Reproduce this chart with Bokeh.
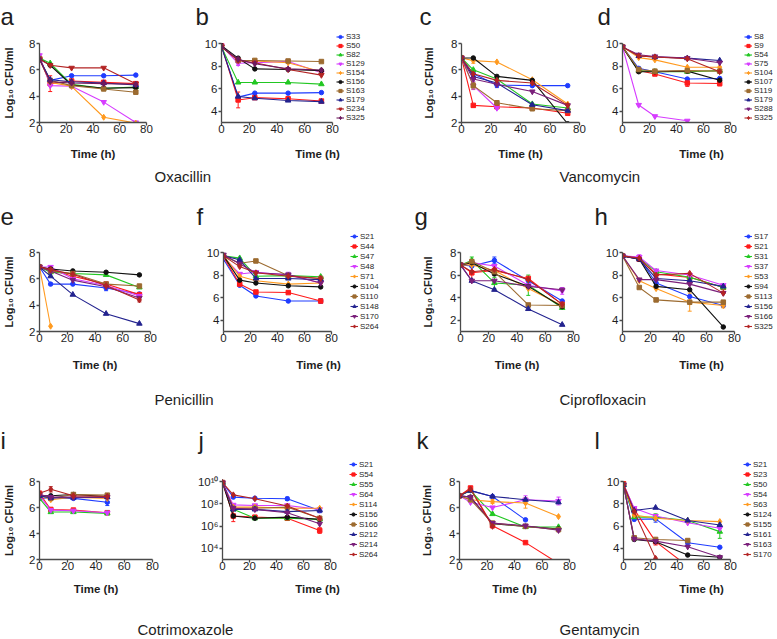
import math
from bokeh.plotting import figure
from bokeh.models import (Range1d, FixedTicker, Label, Legend, LegendItem, ColumnDataSource,
                          Whisker, TeeHead, CustomJSTickFormatter)
from bokeh.layouts import column, row
from bokeh.embed import file_html
from bokeh.resources import INLINE

FONT = "Liberation Sans"
AX = "#4a4a4a"
TXT = "#1e1e1e"

# ---------------- data ----------------
T8 = [0, 8, 24, 48, 72]
T12 = [0, 12, 24, 48, 72]

# a / b : Oxacillin
A_STRAINS = ["S33", "S50", "S82", "S129", "S154", "S156", "S163", "S179", "S234", "S325"]
A_VALUES = [
    [6.85, 5.2, 5.55, 5.55, 5.6],
    [6.85, 4.95, 5.15, 5.05, 4.95],
    [6.9, 6.5, 4.9, 4.6, 4.7],
    [7.1, 4.8, 4.75, 3.55, 2.0],
    [6.8, 5.05, 4.75, 2.4, 1.95],
    [6.85, 6.35, 4.85, 4.6, 4.65],
    [6.85, 5.2, 4.8, 4.55, 4.3],
    [6.8, 5.25, 5.1, 5.0, 4.85],
    [6.8, 6.35, 6.15, 6.15, 4.95],
    [6.8, 5.1, 5.0, 4.95, 4.9],
]
A_ERR = {"S50": [0, 0.6, 0, 0, 0], "S156": [0, 0, 0, 0.15, 0]}
B_VALUES = [
    [9.8, 5.25, 5.6, 5.6, 5.65],
    [9.8, 5.0, 5.2, 5.1, 4.9],
    [9.7, 6.55, 6.55, 6.55, 6.4],
    [9.8, 8.25, 8.3, 8.4, 7.4],
    [9.7, 8.5, 8.45, 8.3, 7.5],
    [9.8, 8.7, 7.75, 7.7, 7.6],
    [9.7, 8.5, 8.5, 8.45, 8.4],
    [9.7, 5.3, 5.15, 4.95, 4.85],
    [9.7, 8.5, 8.3, 7.7, 7.2],
    [9.7, 8.6, 8.2, 7.75, 7.65],
]
B_ERR = {"S50": [0, 0.7, 0, 0, 0], "S129": [0, 0.2, 0, 0, 0]}

# c / d : Vancomycin
C_STRAINS = ["S8", "S9", "S54", "S75", "S104", "S107", "S119", "S179", "S288", "S325"]
C_VALUES = [
    [6.9, 5.7, 4.85, 4.8, 4.8],
    [6.9, 3.3, 3.2, 3.1, 2.7],
    [6.9, 6.0, 5.3, 3.4, 3.1],
    [6.9, 4.8, 3.1, None, None],
    [6.9, 6.7, 6.6, 5.25, 3.4],
    [6.9, 6.9, 5.5, 5.2, 1.9],
    [6.9, 4.8, 3.5, 3.05, 2.9],
    [6.9, 5.5, 5.0, 3.35, 2.9],
    [6.9, 5.3, 4.9, 4.35, 3.3],
    [6.9, 5.7, 5.2, 5.0, 3.3],
]
C_ERR = {"S104": [0, 0.2, 0, 0, 0], "S75": [0, 0.3, 0, 0, 0],
         "S119": [0, 0.25, 0, 0.15, 0], "S8": [0, 0, 0.2, 0, 0]}
D_VALUES = [
    [9.7, 7.8, 7.5, 6.85, 6.9],
    [9.7, 7.6, 7.3, 6.5, 6.45],
    [9.7, 7.6, 7.5, 7.5, 7.6],
    [9.7, 4.55, 3.55, 3.15, None],
    [9.7, 8.75, 8.55, 7.9, 7.9],
    [9.7, 7.5, 7.5, 7.55, 6.75],
    [9.7, 7.7, 7.55, 7.6, 7.55],
    [9.7, 8.9, 8.8, 8.7, 8.5],
    [9.7, 9.0, 8.85, 8.7, 8.3],
    [9.7, 8.9, 8.8, 8.65, 7.5],
]
D_ERR = {"S9": [0, 0, 0, 0.3, 0.2]}

# e / f : Penicillin
E_STRAINS = ["S21", "S44", "S47", "S48", "S71", "S104", "S110", "S148", "S170", "S264"]
E_VALUES = [
    [6.9, 5.6, 5.6, 5.3, 4.85],
    [6.9, 6.7, 6.2, 5.6, 4.8],
    [6.9, 6.5, 6.4, 6.3, 5.35],
    [6.9, 6.9, 6.0, 5.5, 4.7],
    [6.9, 2.4, None, None, None],
    [6.9, 6.75, 6.6, 6.5, 6.3],
    [6.9, 6.6, 6.4, 5.6, 5.45],
    [6.9, 6.2, 4.8, 3.35, 2.6],
    [6.9, 6.6, 5.9, 5.4, 4.55],
    [6.9, 6.7, 6.35, 5.5, 4.4],
]
E_ERR = {"S48": [0, 0.1, 0, 0, 0], "S21": [0, 0, 0, 0.2, 0], "S264": [0, 0, 0, 0, 0.15]}
F_VALUES = [
    [9.4, 7.1, 6.15, 5.7, 5.7],
    [9.6, 7.2, 6.5, 6.45, 5.7],
    [9.7, 9.5, 7.9, 7.95, 7.85],
    [9.6, 8.1, 8.25, 8.0, 7.3],
    [9.7, 7.9, 7.5, 7.2, 7.3],
    [9.7, 7.55, 7.3, 7.05, 6.95],
    [9.7, 9.05, 9.25, 7.95, 7.7],
    [9.7, 9.35, 7.7, 7.7, 7.6],
    [9.8, 9.0, 8.2, 8.05, 7.3],
    [9.7, 8.75, 8.2, 7.9, 7.7],
]
F_ERR = {"S48": [0, 0, 0, 0.25, 0], "S21": [0, 0, 0, 0, 0.2]}

# g / h : Ciprofloxacin
G_STRAINS = ["S17", "S21", "S31", "S37", "S53", "S94", "S113", "S156", "S166", "S325"]
G_VALUES = [
    [6.9, 6.8, 7.3, 5.5, 3.7],
    [6.9, 6.2, 6.4, 5.7, 3.4],
    [6.9, 7.3, 5.3, 5.1, 3.1],
    [6.9, 7.1, 6.8, 5.1, 4.6],
    [6.9, 6.9, 6.4, 4.8, 3.3],
    [6.9, 7.1, 6.1, 5.0, 3.2],
    [6.9, 7.2, 6.3, 3.35, 3.3],
    [6.9, 5.5, 4.7, 3.0, 1.6],
    [6.9, 5.5, 5.5, 5.0, 4.7],
    [6.9, 6.3, 6.5, 5.6, 3.4],
]
G_ERR = {"S21": [0, 0.8, 0, 0, 0], "S31": [0, 0.3, 0.5, 0.9, 0],
         "S17": [0, 0, 0.3, 0, 0], "S37": [0, 0, 0, 0, 0.3]}
H_VALUES = [
    [9.7, 9.5, 7.3, 6.1, 5.3],
    [9.7, 9.4, 8.1, 7.8, 6.9],
    [9.7, 9.5, 8.3, 7.8, 6.9],
    [9.7, 9.6, 8.4, 8.0, 7.1],
    [9.7, 7.5, 6.8, 5.6, 5.3],
    [9.7, 9.4, 7.0, 6.7, 3.4],
    [9.7, 6.9, 5.8, 5.6, 5.6],
    [9.7, 9.4, 7.7, 7.5, 7.0],
    [9.7, 7.6, 7.6, 7.2, 6.4],
    [9.7, 9.5, 8.0, 8.15, 6.4],
]
H_ERR = {"S53": [0, 0, 0, 0.8, 0.2], "S37": [0, 0.2, 0, 0, 0]}

# i / j : Cotrimoxazole
I_STRAINS = ["S21", "S54", "S55", "S64", "S114", "S156", "S166", "S212", "S214", "S264"]
I_VALUES = [
    [6.7, 6.75, 6.7, 6.4, None],
    [7.1, 5.85, 5.8, 5.6, None],
    [6.7, 5.65, 5.65, 5.55, None],
    [6.9, 5.8, 5.75, 5.6, None],
    [7.0, 6.6, 6.8, 6.7, None],
    [6.9, 6.9, 7.0, 6.85, None],
    [6.9, 6.7, 7.0, 6.95, None],
    [6.9, 6.75, 6.75, 6.8, None],
    [7.0, 6.8, 6.8, 6.8, None],
    [7.1, 7.4, 6.9, 6.85, None],
]
I_ERR = {"S264": [0, 0.2, 0, 0, 0], "S21": [0, 0, 0, 0.25, 0]}
# j values are log10(CFU/ml), drawn on a log axis
J_LOG10 = [
    [9.9, 8.6, 8.5, 8.45, 7.4],
    [9.9, 6.9, 6.8, 6.7, 5.6],
    [9.9, 7.5, 6.7, 6.7, 6.6],
    [9.9, 7.9, 7.85, 7.85, 7.5],
    [9.9, 7.7, 7.7, 7.6, 7.6],
    [9.9, 6.9, 6.7, 6.8, 6.6],
    [9.9, 7.6, 7.6, 7.7, 6.7],
    [9.9, 7.5, 7.5, 7.3, 7.4],
    [9.9, 7.6, 7.5, 7.2, 6.2],
    [9.9, 8.8, 8.45, 7.8, 6.7],
]
J_ERR = {"S54": [0, 0.5, 0, 0, 0.25], "S21": [0, 0, 0, 0.15, 0.2]}

# k / l : Gentamycin
K_STRAINS = ["S21", "S23", "S50", "S54", "S63", "S124", "S155", "S161", "S163", "S170"]
K_VALUES = [
    [6.9, 7.3, 6.85, 5.05, None],
    [6.9, 7.5, 4.6, 3.3, 1.7],
    [6.9, 7.3, 5.5, 4.5, 4.5],
    [6.9, 6.4, 6.0, 6.6, 6.5],
    [6.9, 6.6, 6.45, 6.35, 5.3],
    [6.9, 6.8, 4.75, 4.55, 4.35],
    [6.9, 6.6, 4.8, 4.55, 4.3],
    [6.9, 7.3, 6.85, 6.6, 6.4],
    [6.9, 6.8, 4.8, 4.6, 4.25],
    [6.9, 7.4, 4.55, None, None],
]
K_ERR = {"S54": [0, 0, 0, 0.3, 0.3], "S63": [0, 0, 0.15, 0.4, 0]}
L_VALUES = [
    [9.7, 6.6, 6.65, 4.5, 4.1],
    [9.8, 7.5, 4.6, 2.4, None],
    [9.7, 6.8, 6.8, 6.5, 5.5],
    [9.7, 7.6, 6.9, 6.3, 5.8],
    [9.7, 7.0, 6.7, 6.5, 6.4],
    [9.7, 4.8, 4.6, 3.4, 3.2],
    [9.7, 4.95, 4.8, 4.7, None],
    [9.7, 7.4, 7.65, 6.5, 6.1],
    [9.7, 4.85, 4.65, 4.15, 3.2],
    [9.7, 7.3, 3.1, None, None],
]
L_ERR = {"S50": [0, 0, 0.3, 0, 0.6], "S21": [0, 0, 0.3, 0, 0], "S23": [0, 0, 0.3, 0, 0]}

DRUGS = ["Oxacillin", "Vancomycin", "Penicillin", "Ciprofloxacin", "Cotrimoxazole", "Gentamycin"]
LETTERS = ["a", "b", "c", "d", "e", "f", "g", "h", "i", "j", "k", "l"]
Y_TITLE = "Log\u2081\u2080 CFU/ml"
X_TITLE = "Time (h)"

PAL = ["#1f3cff", "#ff1a1a", "#22c722", "#d63cff", "#ff9a1f",
       "#111111", "#9c6b30", "#23238f", "#7a1f7a", "#b32424"]
PAL_AB = PAL[:8] + ["#b32424", "#6e1a5e"]
MARKERS = ["circle", "square", "triangle", "inverted_triangle", "diamond",
           "circle", "square", "triangle", "inverted_triangle", "diamond"]
MSIZE = {"circle": 4.5, "square": 4.5, "triangle": 5.5, "inverted_triangle": 5.5, "diamond": 6}

# ---------------- layout geometry (page pixels) ----------------
W = 777
COLS = [(0, 190), (190, 410), (410, 590), (590, W)]
# block top, block bottom, frame top, frame height, x-title standoff
ROWS = [(26, 165, 43, 79, 12), (231, 374, 252, 79, 14), (459, 600, 481, 78, 10)]
# strips: (top, bottom, letter middle y or None)
STRIP_TOP = (0, 26, 16)
STRIPS = [(165, 231, 216), (374, 459, 440), (600, 639, None)]
LETTER_X = [[0, 195, 419, 597], [0, 196, 414, 594], [0, 198, 416, 594]]
LETTER_SIZE = "24px"

PANELS = [
    dict(col=0, row=0, frame=(36, 107), times=T8, strains=A_STRAINS, values=A_VALUES,
         err=A_ERR, yr=(2, 8), yt=[2, 4, 6, 8], ytitle=True, pal=PAL_AB),
    dict(col=1, row=0, frame=(218, 111), times=T12, strains=A_STRAINS, values=B_VALUES,
         err=B_ERR, yr=(3, 10), yt=[4, 6, 8, 10], pal=PAL_AB, legend=(333, 35, 122, 8, 9)),
    dict(col=2, row=0, frame=(458, 118), times=T8, strains=C_STRAINS, values=C_VALUES,
         err=C_ERR, yr=(2, 8), yt=[2, 4, 6, 8], ytitle=True, pal=PAL),
    dict(col=3, row=0, frame=(619, 108), times=T12, strains=C_STRAINS, values=D_VALUES,
         err=D_ERR, yr=(3, 10), yt=[4, 6, 8, 10], pal=PAL, legend=(741, 44, 121, 8, 9)),
    dict(col=0, row=1, frame=(36, 111), times=T8, strains=E_STRAINS, values=E_VALUES,
         err=E_ERR, yr=(2, 8), yt=[2, 4, 6, 8], ytitle=True, pal=PAL),
    dict(col=1, row=1, frame=(220, 108), times=T12, strains=E_STRAINS, values=F_VALUES,
         err=F_ERR, yr=(3, 10), yt=[4, 6, 8, 10], pal=PAL, legend=(347, 232, 331, 8, 10)),
    dict(col=2, row=1, frame=(457, 113), times=T8, strains=G_STRAINS, values=G_VALUES,
         err=G_ERR, yr=(1, 8), yt=[2, 4, 6, 8], ytitle=True, pal=PAL),
    dict(col=3, row=1, frame=(619, 112), times=T12, strains=G_STRAINS, values=H_VALUES,
         err=H_ERR, yr=(3, 10), yt=[4, 6, 8, 10], pal=PAL, legend=(741, 236, 328, 8, 10)),
    dict(col=0, row=2, frame=(37, 113), times=T8, strains=I_STRAINS, values=I_VALUES,
         err=I_ERR, yr=(2, 8), yt=[2, 4, 6, 8], ytitle=True, pal=PAL),
    dict(col=1, row=2, frame=(220, 108), times=T8, strains=I_STRAINS, values=J_LOG10,
         err=J_ERR, yr=(1e3, 1e10), yt=[1e4, 1e6, 1e8, 1e10], log=True, pal=PAL,
         legend=(347, 474, 558, 8, 10)),
    dict(col=2, row=2, frame=(457, 110), times=T8, strains=K_STRAINS, values=K_VALUES,
         err=K_ERR, yr=(2, 8), yt=[2, 4, 6, 8], ytitle=True, pal=PAL),
    dict(col=3, row=2, frame=(621, 107), times=T8, strains=K_STRAINS, values=L_VALUES,
         err=L_ERR, yr=(3, 10), yt=[4, 6, 8, 10], pal=PAL, legend=(741, 473, 559, 8, 10)),
]

DRUG_POS = [(154, 176), (559, 176), (154, 399), (559, 399), (137, 629), (559, 629)]


def make_panel(cfg):
    fx0, fw = cfg["frame"]
    cx0, cx1 = COLS[cfg["col"]]
    bt, bb, ft, fh, xstand = ROWS[cfg["row"]]
    fb = ft + fh
    log = cfg.get("log", False)
    y0, y1 = cfg["yr"]
    x_end = 80
    top = ft
    right = fx0 + fw
    leg_geom = None
    if cfg.get("legend"):
        # the frame is widened/raised so that the legend sits inside it;
        # the axes themselves are bounded to the data span
        gx, l1, l2, fs, eh = cfg["legend"]
        H = len(cfg["strains"]) * eh
        leg_bottom = min((l1 + l2) / 2 + H / 2, fb)
        leg_top = leg_bottom - H
        top = max(bt, min(ft, int(math.floor(leg_top))))
        right = cx1
        x_end = 80 * (right - fx0) / fw
        leg_geom = (gx, leg_bottom, fs, eh)
    ext = ft - top
    if log:
        l0, l1_ = math.log10(y0), math.log10(y1)
        y_top = 10 ** (l1_ + ext * (l1_ - l0) / fh)
    else:
        y_top = y1 + ext * (y1 - y0) / fh

    p = figure(frame_width=right - fx0, frame_height=fb - top,
               x_range=Range1d(0, x_end), y_range=Range1d(y0, y_top),
               y_axis_type="log" if log else "linear",
               output_backend="svg", toolbar_location=None, title_location=None,
               frame_align=False,
               min_border_left=fx0 - cx0, min_border_right=cx1 - right,
               min_border_top=top - bt, min_border_bottom=bb - fb)
    p.outline_line_color = None
    p.grid.visible = False
    p.background_fill_color = None
    p.border_fill_color = "white"

    for ax in (p.xaxis[0], p.yaxis[0]):
        ax.axis_line_color = AX
        ax.axis_line_width = 1.3
        ax.major_tick_line_color = AX
        ax.major_tick_line_width = 1.3
        ax.major_tick_in = 0
        ax.major_tick_out = 3
        ax.minor_tick_line_color = None
        ax.major_label_text_font = FONT
        ax.major_label_text_font_size = "11.5px"
        ax.major_label_text_color = TXT
    p.xaxis.bounds = (0, 80)
    p.yaxis.bounds = (y0, y1)
    p.xaxis.ticker = FixedTicker(ticks=[0, 20, 40, 60, 80])
    p.xaxis.major_label_standoff = -1
    p.xaxis.axis_label = X_TITLE
    p.xaxis.axis_label_text_font = FONT
    p.xaxis.axis_label_text_font_size = "11.5px"
    p.xaxis.axis_label_text_font_style = "bold"
    p.xaxis.axis_label_text_color = TXT
    p.xaxis.axis_label_standoff = xstand

    p.yaxis.ticker = FixedTicker(ticks=cfg["yt"])
    p.yaxis.major_label_standoff = 1
    if log:
        p.yaxis.formatter = CustomJSTickFormatter(code="""
            const sup = {'0':'\u2070','1':'\u00b9','2':'\u00b2','3':'\u00b3','4':'\u2074',
                         '5':'\u2075','6':'\u2076','7':'\u2077','8':'\u2078','9':'\u2079'};
            const e = Math.round(Math.log10(tick));
            return '10' + String(e).split('').map(c => sup[c]).join('');
        """)
    if cfg.get("ytitle"):
        p.yaxis.axis_label = Y_TITLE
        p.yaxis.axis_label_text_font = FONT
        p.yaxis.axis_label_text_font_size = "11px"
        p.yaxis.axis_label_text_font_style = "bold"
        p.yaxis.axis_label_text_color = TXT
        p.yaxis.axis_label_standoff = 11 if cfg["col"] == 0 else 13

    items = []
    conv = (lambda v: 10 ** v) if log else (lambda v: v)
    for i, (s, vals) in enumerate(zip(cfg["strains"], cfg["values"])):
        c = cfg["pal"][i]
        m = MARKERS[i]
        ys = [float("nan") if v is None else conv(v) for v in vals]
        src = ColumnDataSource(dict(t=cfg["times"], y=ys))
        lr = p.line("t", "y", source=src, line_color=c, line_width=1.1)
        sr = p.scatter("t", "y", source=src, marker=m, size=MSIZE[m], fill_color=c, line_color=c)
        items.append(LegendItem(label=s, renderers=[lr, sr]))
        e = cfg["err"].get(s)
        if e:
            bx, up, lo = [], [], []
            for t, v, ev in zip(cfg["times"], vals, e):
                if v is not None and ev > 0:
                    bx.append(t)
                    up.append(conv(v + ev))
                    lo.append(conv(v - ev))
            if bx:
                wsrc = ColumnDataSource(dict(b=bx, u=up, l=lo))
                p.add_layout(Whisker(source=wsrc, base="b", upper="u", lower="l",
                                     line_color=c, line_width=1,
                                     upper_head=TeeHead(size=4, line_color=c, line_width=1),
                                     lower_head=TeeHead(size=4, line_color=c, line_width=1)))

    if leg_geom:
        gx, leg_bottom, fs, eh = leg_geom
        leg = Legend(items=items, location=(gx - fx0, fb - leg_bottom),
                     orientation="vertical", padding=0, margin=0, spacing=0,
                     label_height=eh, glyph_height=eh, glyph_width=8, label_standoff=2,
                     label_text_font=FONT, label_text_font_size=f"{fs}px", label_text_color=TXT,
                     border_line_color=None, background_fill_alpha=0)
        p.add_layout(leg)
    return p


def make_strip(top, bottom, texts):
    h = bottom - top
    p = figure(frame_width=W, frame_height=h, x_range=Range1d(0, W), y_range=Range1d(0, h),
               output_backend="svg", toolbar_location=None, title_location=None, min_border=0,
               frame_align=False, x_axis_location=None, y_axis_location=None)
    p.grid.visible = False
    p.outline_line_color = None
    for text, x, y, size in texts:
        p.add_layout(Label(x=x, y=bottom - y, text=text, text_font=FONT,
                           text_font_size=size, text_baseline="middle", text_align="left",
                           text_color=TXT))
    return p


def letter_texts(r, ymid):
    return [(LETTERS[4 * r + k], LETTER_X[r][k], ymid, LETTER_SIZE) for k in range(4)]


figs = [make_panel(c) for c in PANELS]
blocks = [make_strip(STRIP_TOP[0], STRIP_TOP[1], letter_texts(0, STRIP_TOP[2]))]
for r in range(3):
    blocks.append(row(*figs[4 * r:4 * r + 4]))
    top, bottom, ymid = STRIPS[r]
    texts = [(DRUGS[2 * r + k], DRUG_POS[2 * r + k][0], DRUG_POS[2 * r + k][1], "15px")
             for k in range(2)]
    if ymid is not None:
        texts += letter_texts(r + 1, ymid)
    blocks.append(make_strip(top, bottom, texts))

layout = column(*blocks)
open("out.html", "w").write(file_html(layout, INLINE, title="Time-kill curves"))
